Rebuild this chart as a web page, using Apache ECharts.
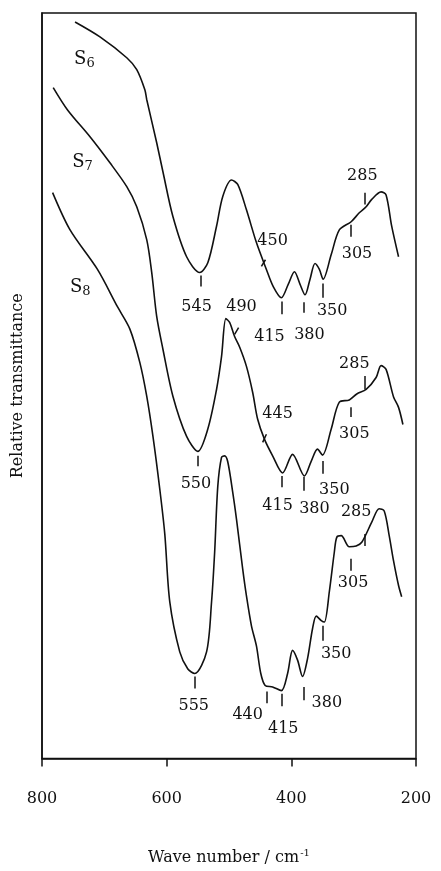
<!DOCTYPE html>
<html><head><meta charset="utf-8">
<script src="https://cdn.jsdelivr.net/npm/echarts@6/dist/echarts.min.js"></script>
<style>html,body{margin:0;padding:0;background:#fff}#c{width:441px;height:871px}</style>
</head><body><div id="c"></div>
<script>
// Wave numbers (cm-1) and relative transmittance (arbitrary 0-100 scale)
const waveS6 = [747,707,664,648,635,632,616,606,590,568,547,534,520,510,496,486,472,456,440,429,416,405,395,386,378,370,362,355,349,336,323,304,291,280,271,256,248,239,228];
const valS6  = [98.8,96.8,94.0,92.4,89.7,88.4,82.6,78.7,72.7,67.3,65.2,66.5,71.4,75.4,77.6,77.0,73.6,69.2,65.6,63.3,61.8,63.6,65.3,63.6,62.2,64.3,66.4,65.6,64.3,67.6,70.9,72.0,73.2,74.0,75.0,76.0,75.6,71.4,67.3];

const waveS7 = [782,759,723,691,664,648,632,624,616,606,590,568,550,534,520,512,505,499,491,483,472,462,454,443,430,414,398,379,368,358,350,336,323,307,295,280,264,256,248,236,228,221];
const valS7  = [90.0,87.0,83.4,79.9,76.7,74.0,69.6,65.2,59.3,54.9,48.6,43.2,41.2,44.2,49.5,53.9,59.0,58.5,56.6,55.2,52.6,49.1,45.5,42.8,40.6,38.3,40.8,37.9,39.9,41.5,40.7,44.2,47.8,48.1,48.9,49.5,51.1,52.7,52.2,48.5,47.1,44.8];

const waveS8 = [783,755,711,679,659,643,632,622,611,603,595,579,566,555,536,528,523,518,512,507,502,494,488,478,472,464,456,449,442,430,416,406,398,390,382,374,366,360,352,347,339,331,327,320,307,296,287,271,259,251,243,236,228,223];
const valS8  = [75.9,70.9,65.6,60.6,57.6,53.1,48.6,43.2,36.1,30.1,21.0,14.3,12.0,11.4,14.3,21.0,27.7,36.5,40.4,40.6,39.8,35.7,32.1,25.4,21.8,17.8,15.1,11.4,9.8,9.6,9.1,11.4,14.5,13.2,11.0,13.4,17.4,19.1,18.5,18.3,22.4,27.7,29.7,29.9,28.4,28.5,29.0,31.7,33.5,33.2,29.9,26.5,23.2,21.7];

// Band annotations: [text, tick wave 1, tick value 1, tick wave 2, tick value 2, label wave, label value]
const marksS6 = [
  ['545', 545, 64.8, 545, 63.3, 552, 60.6],
  ['450', 448, 66.0, 441.5, 66.9, 430, 69.5],
  ['415', 415, 61.3, 415, 59.6, 435, 56.6],
  ['380', 380, 61.2, 380, 59.8, 371, 56.8],
  ['350', 350, 63.7, 350, 61.8, 334.5, 60.0],
  ['305', 305, 71.6, 305, 70.0, 294.6, 67.7],
  ['285', 283, 75.9, 283, 74.3, 286, 78.2]
];
const marksS7 = [
  ['490', 491, 56.9, 484.6, 57.8, 480, 60.6],
  ['550', 550, 40.6, 550, 39.2, 553, 36.9],
  ['445', 446, 42.4, 440, 43.5, 422, 46.2],
  ['415', 415, 37.9, 415, 36.4, 422, 33.9],
  ['380', 380, 37.8, 380, 35.9, 363, 33.5],
  ['350', 350, 39.9, 350, 38.2, 331, 36.1],
  ['305', 305, 47.1, 305, 45.8, 299, 43.6],
  ['285', 282, 51.3, 282, 49.5, 299, 52.9]
];
const marksS8 = [
  ['555', 555, 11.0, 555, 9.4, 556.5, 7.0],
  ['440', 440, 9.0, 440, 7.4, 470, 5.8],
  ['415', 415, 8.7, 415, 7.0, 413, 4.0],
  ['380', 380, 9.6, 380, 7.8, 343, 7.5],
  ['350', 350, 17.8, 350, 15.8, 328, 14.1],
  ['305', 305, 26.8, 305, 25.2, 301, 23.6],
  ['285', 283, 30.1, 283, 28.5, 296, 33.1]
];

// Sample names: [letter, subscript, wave, value]
const sampleNames = [['S','6',732,93.8],['S','7',735,80.0],['S','8',738.6,63.2]];

const xTicks = [200, 400, 600, 800];

const FONT = 'DejaVu Serif';
const INK = '#111111';
const zip = (w, v) => w.map((x, i) => [x, v[i]]);

function curve(name, w, v, marks) {
  return {
    type: 'line', name, data: zip(w, v), showSymbol: false, smooth: 0.3, silent: true, z: 3,
    lineStyle: { color: INK, width: 1.6 },
    markLine: {
      silent: true, symbol: ['none', 'none'], label: { show: false }, animation: false,
      lineStyle: { color: INK, width: 1.5, type: 'solid', opacity: 1 },
      emphasis: { disabled: true },
      data: marks.map(m => [{ coord: [m[1], m[2]] }, { coord: [m[3], m[4]] }])
    }
  };
}
const allMarks = marksS6.concat(marksS7, marksS8);

const chart = echarts.init(document.getElementById('c'), null, { renderer: 'canvas' });
chart.setOption({
  animation: false,
  backgroundColor: '#fff',
  grid: { left: 42, right: 25, top: 13, bottom: 111, show: true, borderColor: INK, borderWidth: 1.5, backgroundColor: 'transparent' },
  xAxis: {
    type: 'value', inverse: true, min: xTicks[0], max: xTicks[xTicks.length - 1], interval: xTicks[1] - xTicks[0],
    axisLine: { show: true, lineStyle: { color: INK, width: 1.5 } },
    axisTick: { show: true, inside: false, length: 8, lineStyle: { color: INK, width: 1.5 } },
    splitLine: { show: false },
    axisLabel: { color: INK, fontFamily: FONT, fontSize: 16, margin: 32 },
    name: 'Wave number / cm{sup|-1}', nameLocation: 'middle', nameGap: 90,
    nameTextStyle: { color: INK, fontFamily: FONT, fontSize: 16,
      rich: { sup: { fontSize: 10, fontFamily: FONT, color: INK, verticalAlign: 'top', padding: [0, 0, 9, 1] } } }
  },
  yAxis: {
    type: 'value', min: 0, max: 100,
    axisLine: { show: true, lineStyle: { color: INK, width: 1.5 } },
    axisTick: { show: false }, axisLabel: { show: false }, splitLine: { show: false },
    name: 'Relative transmittance', nameLocation: 'middle', nameGap: 16,
    nameTextStyle: { color: INK, fontFamily: FONT, fontSize: 16 }
  },
  series: [
    curve('S6', waveS6, valS6, marksS6),
    curve('S7', waveS7, valS7, marksS7),
    curve('S8', waveS8, valS8, marksS8),
    {
      type: 'scatter', silent: true, symbolSize: 0, z: 4,
      itemStyle: { opacity: 1 },
      label: { show: true, position: 'inside', color: INK, opacity: 1, textBorderWidth: 0, fontFamily: FONT, fontSize: 16 },
      data: allMarks.map(m => ({ value: [m[5], m[6]], label: { formatter: m[0] } }))
    },
    {
      type: 'scatter', silent: true, symbolSize: 0, z: 4,
      itemStyle: { opacity: 1 },
      label: {
        show: true, position: 'inside', color: INK, opacity: 1, textBorderWidth: 0,
        rich: {
          s: { fontFamily: FONT, fontSize: 18, color: INK },
          sub: { fontFamily: FONT, fontSize: 13, color: INK, verticalAlign: 'bottom', padding: [9, 0, 0, 0] }
        }
      },
      data: sampleNames.map(n => ({ value: [n[2], n[3]], label: { formatter: '{s|' + n[0] + '}{sub|' + n[1] + '}' } }))
    }
  ]
});
</script>
</body></html>
